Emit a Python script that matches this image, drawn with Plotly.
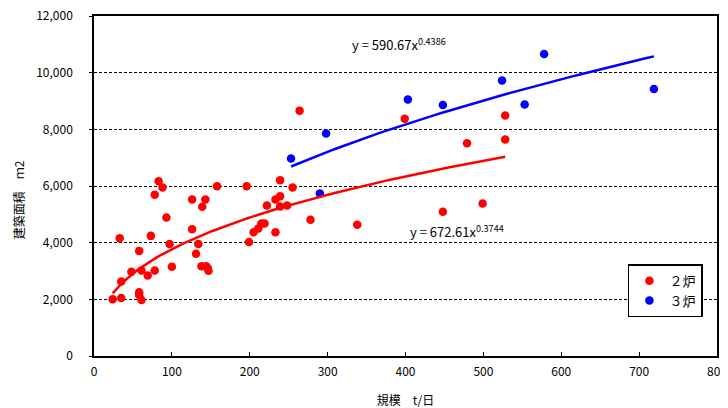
import numpy as np
import plotly.graph_objects as go

# ---- data ----
red_x = [24, 35, 33, 35, 48, 58, 61, 58, 58, 61, 69, 78, 73, 78, 83, 88, 93, 97, 100,
         126, 126, 134, 131, 139, 143, 138, 144, 147, 146, 158, 196, 199, 205, 211, 215,
         219, 222, 233, 233, 239, 239, 239, 248, 255, 264, 278, 338, 399, 448, 479, 499,
         528, 528]
red_y = [2000, 2045, 4160, 2630, 2970, 3710, 3020, 2250, 2150, 1975, 2845, 3020, 4240,
         5690, 6170, 5950, 4890, 3950, 3150, 5525, 4470, 3950, 3610, 5270, 5525, 3170,
         3170, 3010, 3100, 5995, 5995, 4020, 4370, 4500, 4680, 4680, 5310, 4370, 5525,
         5640, 6205, 5280, 5310, 5950, 8660, 4805, 4630, 8370, 5090, 7510, 5385, 8490,
         7640]
blue_x = [253, 290, 298, 403, 448, 524, 553, 578, 719]
blue_y = [6970, 5735, 7850, 9050, 8860, 9720, 8875, 10660, 9425]

red_coef, red_exp = 672.61, 0.3744
blue_coef, blue_exp = 590.67, 0.4386

series_names = ["２炉", "３炉"]
x_ticks = [0, 100, 200, 300, 400, 500, 600, 700, 800]
y_ticks = [0, 2000, 4000, 6000, 8000, 10000, 12000]

FONT = "Noto Sans CJK JP, Noto Sans, sans-serif"

def trend(xs, a, b):
    xx = np.linspace(min(xs), max(xs), 100)
    return xx, a * xx ** b

fig = go.Figure()
fig.add_trace(go.Scatter(x=red_x, y=red_y, mode="markers", name=series_names[0],
                         marker=dict(color="#FF0000", size=8.5)))
fig.add_trace(go.Scatter(x=blue_x, y=blue_y, mode="markers", name=series_names[1],
                         marker=dict(color="#0000FF", size=8.5)))
rx, ry = trend(red_x, red_coef, red_exp)
bx, by = trend(blue_x, blue_coef, blue_exp)
fig.add_trace(go.Scatter(x=rx, y=ry, mode="lines", showlegend=False,
                         line=dict(color="#FF0000", width=2.5), hoverinfo="skip"))
fig.add_trace(go.Scatter(x=bx, y=by, mode="lines", showlegend=False,
                         line=dict(color="#0000FF", width=2.5), hoverinfo="skip"))

fig.add_annotation(x=392, y=11000, xref="x", yref="y", showarrow=False,
                   text=f"y = {blue_coef}x<sup>{blue_exp}</sup>",
                   font=dict(family=FONT, size=13, color="#000"))
fig.add_annotation(x=466, y=4400, xref="x", yref="y", showarrow=False,
                   text=f"y = {red_coef}x<sup>{red_exp}</sup>",
                   font=dict(family=FONT, size=13, color="#000"))
fig.add_annotation(x=-0.121, y=0.46, xref="paper", yref="paper", showarrow=False,
                   xanchor="center", yanchor="middle",
                   text="建築面積　ｍ2", textangle=-90,
                   font=dict(family=FONT, size=12, color="#000"))

fig.update_layout(
    width=720, height=400,
    margin=dict(l=86, r=11, t=8, b=52, autoexpand=False),
    paper_bgcolor="white", plot_bgcolor="white",
    font=dict(family=FONT, size=12, color="#000"),
    showlegend=True,
    legend=dict(x=0.857, y=0.27, xanchor="left", yanchor="top",
                bgcolor="white", bordercolor="#000", borderwidth=1.5,
                font=dict(family=FONT, size=13), itemwidth=30,
                tracegroupgap=0),
)
fig.update_xaxes(range=[0, 800], tickvals=x_ticks, ticktext=[str(v) for v in x_ticks],
                 automargin=False, ticklabeloverflow="allow",
                 showline=True, linecolor="#000", linewidth=1.5, mirror=True,
                 showgrid=False, zeroline=False, ticks="inside", ticklen=4,
                 tickcolor="#000", ticklabelstandoff=4,
                 title=dict(text="規模　t/日", font=dict(family=FONT, size=12), standoff=20))
fig.update_yaxes(range=[0, 12000], tickvals=y_ticks,
                 ticktext=[f"{v:,}" for v in y_ticks],
                 automargin=False, ticklabeloverflow="allow",
                 showline=True, linecolor="#000", linewidth=1.5, mirror=True,
                 showgrid=True, gridcolor="#000", gridwidth=1, griddash="3px,2px",
                 zeroline=False, ticks="outside", ticklen=3, tickcolor="#000",
                 ticklabelstandoff=14)

fig.write_html("out.html")
